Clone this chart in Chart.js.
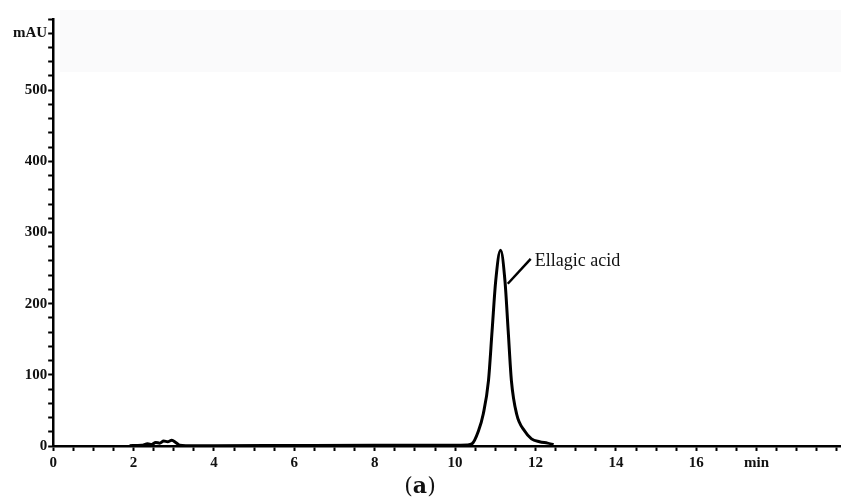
<!DOCTYPE html>
<html>
<head>
<meta charset="utf-8">
<script src="https://cdn.jsdelivr.net/npm/chart.js@4"></script>
<style>
  body { margin: 0; background: #fff; }
  #wrap { width: 841px; height: 500px; }
</style>
</head>
<body>
<div id="wrap"><canvas id="myChart" width="841" height="500"></canvas></div>
<script>
// retention time (min) and absorbance (mAU)
const rt = [1.9, 2.2, 2.35, 2.45, 2.55, 2.65, 2.75, 2.85, 2.95, 3.05, 3.15, 3.3, 4, 6, 8, 10, 10.3,
  10.42, 10.58, 10.7, 10.83, 10.92, 11.01, 11.13, 11.24, 11.32, 11.4, 11.53, 11.73, 11.9, 12.1, 12.3, 12.45];
const mAU = [0.5, 1, 3, 2, 5, 4, 7, 6, 8, 5, 1, 0.5, 0.5, 0.8, 1, 1, 1.5,
  3, 21, 45, 92, 162, 232, 275, 232, 162, 92, 45, 21, 10, 6, 4, 2];

const xTickLabels = [0, 2, 4, 6, 8, 10, 12, 14, 16];
const yTickLabels = [0, 100, 200, 300, 400, 500];
const xUnit = "min";   // sits at 17.5
const yUnit = "mAU";   // sits at 580

// peak label: line from the peak flank to the text
const peakName = "Ellagic acid";
const pointer = [[11.31, 228], [11.88, 263]];
const peakLabelAt = [11.98, 253];

const tickFont = { family: "'Liberation Serif', 'Times New Roman', serif", size: 15, weight: "bold" };

var extras = {
  id: "extras",
  beforeDraw(chart) {
    const c = chart.ctx;
    c.save();
    c.fillStyle = "#fafafb";
    c.fillRect(60, 10, 781, 62);
    c.restore();
  },
  afterDraw(chart) {
    const c = chart.ctx;
    const xs = chart.scales.x, ys = chart.scales.y;
    c.save();
    c.strokeStyle = "#000";
    c.lineWidth = 2.5;
    c.beginPath();
    c.moveTo(xs.getPixelForValue(pointer[0][0]), ys.getPixelForValue(pointer[0][1]));
    c.lineTo(xs.getPixelForValue(pointer[1][0]), ys.getPixelForValue(pointer[1][1]));
    c.stroke();
    c.fillStyle = "#111";
    c.font = "18px 'Liberation Serif', 'Times New Roman', serif";
    c.textBaseline = "alphabetic";
    c.fillText(peakName, xs.getPixelForValue(peakLabelAt[0]), ys.getPixelForValue(peakLabelAt[1]));

    // caption (a)
    c.font = "22px 'DejaVu Serif', serif";
    const p1 = c.measureText("(").width;
    c.font = "bold 22px 'DejaVu Serif', serif";
    const a = c.measureText("a").width;
    let x0 = 420 - (p1 * 2 + a) / 2;
    c.textBaseline = "middle";
    c.font = "22px 'DejaVu Serif', serif";
    c.fillText("(", x0, 487);
    c.font = "bold 22px 'DejaVu Serif', serif";
    c.fillText("a", x0 + p1, 487);
    c.font = "22px 'DejaVu Serif', serif";
    c.fillText(")", x0 + p1 + a, 487);
    c.restore();
  }
};

var ctx = document.getElementById("myChart").getContext("2d");
var chart = new Chart(ctx, {
  type: "line",
  data: {
    datasets: [
      {
        label: "trace",
        data: rt.map((t, i) => ({ x: t, y: mAU[i] })),
        borderColor: "#000",
        borderWidth: 3,
        pointRadius: 0,
        cubicInterpolationMode: "monotone",
        fill: false
      }
    ]
  },
  options: {
    responsive: false,
    animation: false,
    layout: { padding: { left: 12, right: 0, top: 19, bottom: 25 } },
    plugins: { legend: { display: false }, tooltip: { enabled: false } },
    scales: {
      x: {
        type: "linear",
        min: 0,
        max: 19.6,
        border: { color: "#000", width: 2.5 },
        grid: { drawOnChartArea: false, drawTicks: true, tickLength: 5, tickWidth: 2, color: "#000" },
        afterBuildTicks(scale) {
          const t = [];
          for (let v = 0; v <= 19.5; v += 0.5) t.push({ value: v });
          scale.ticks = t;
        },
        ticks: {
          autoSkip: false,
          maxRotation: 0,
          padding: 3,
          color: "#111",
          font: tickFont,
          callback: function(v) {
            if (v === 17.5) return xUnit;
            return xTickLabels.includes(v) ? String(v) : "";
          }
        }
      },
      y: {
        min: 0,
        max: 600,
        border: { color: "#000", width: 2.5 },
        grid: { drawOnChartArea: false, drawTicks: true, tickLength: 5, tickWidth: 2, color: "#000" },
        ticks: {
          stepSize: 20,
          autoSkip: false,
          padding: 1,
          color: "#111",
          font: tickFont,
          callback: function(v) {
            if (v === 580) return yUnit;
            return yTickLabels.includes(v) ? String(v) : "";
          }
        }
      }
    }
  },
  plugins: [extras]
});
</script>
</body>
</html>
